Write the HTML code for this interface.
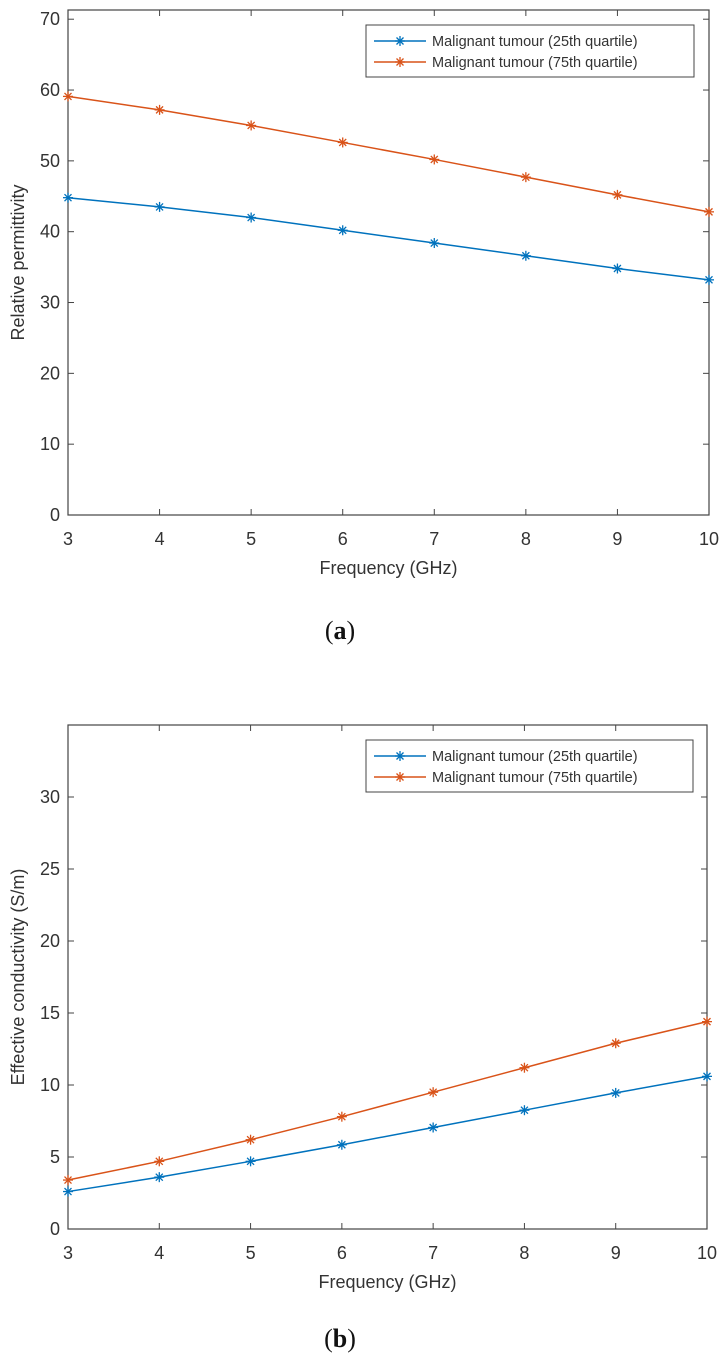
<!DOCTYPE html>
<html><head><meta charset="utf-8"><style>
body{margin:0;background:#fff;width:727px;height:1362px;overflow:hidden}
svg{display:block}
text{font-family:"Liberation Sans",sans-serif;fill:#333}
</style></head><body>
<svg id="s" width="727" height="1362"></svg>
<script>
const freqs=[3,4,5,6,7,8,9,10];
const permLow=[44.8,43.5,42.0,40.2,38.4,36.6,34.8,33.2];
const permHigh=[59.1,57.2,55.0,52.6,50.2,47.7,45.2,42.8];
const condLow=[2.6,3.6,4.7,5.85,7.05,8.25,9.45,10.6];
const condHigh=[3.4,4.7,6.2,7.8,9.5,11.2,12.9,14.4];
const xTicks=[3,4,5,6,7,8,9,10];
const permTicks=[0,10,20,30,40,50,60,70];
const condTicks=[0,5,10,15,20,25,30];
const legendLabels=["Malignant tumour (25th quartile)","Malignant tumour (75th quartile)"];
const NS="http://www.w3.org/2000/svg";
const svg=document.getElementById('s');
function el(t,a,p){const e=document.createElementNS(NS,t);for(const k in a)e.setAttribute(k,a[k]);(p||svg).appendChild(e);return e;}
const colors=["#0072BD","#D95319"];
function chart(o){
  const g=el('g',{});
  
  
  const X=v=>o.x0+(v-3)/(7)*(o.x1-o.x0);
  const Y=v=>o.yb-(v/o.ymax)*(o.yb-o.yt);
  el('rect',{x:o.x0,y:o.yt,width:o.x1-o.x0,height:o.yb-o.yt,fill:'#fff',stroke:'#444','stroke-width':1.2},g);
  xTicks.forEach(t=>{const x=X(t);
    el('line',{x1:x,x2:x,y1:o.yb,y2:o.yb-6,stroke:'#444'},g);
    el('line',{x1:x,x2:x,y1:o.yt,y2:o.yt+6,stroke:'#444'},g);
    const tx=el('text',{x:x,y:o.yb+30,'text-anchor':'middle','font-size':18},g);tx.textContent=t;
    
    });
  o.ticks.forEach(t=>{const y=Y(t);
    el('line',{x1:o.x0,x2:o.x0+6,y1:y,y2:y,stroke:'#444'},g);
    el('line',{x1:o.x1,x2:o.x1-6,y1:y,y2:y,stroke:'#444'},g);
    const tx=el('text',{x:o.x0-8,y:y+6,'text-anchor':'end','font-size':18},g);tx.textContent=t;
    
    });
  const xt=el('text',{x:(o.x0+o.x1)/2,y:o.yb+59,'text-anchor':'middle','font-size':18},g);xt.textContent='Frequency (GHz)';
  
  
  const yc=(o.yt+o.yb)/2;
  const yt=el('text',{x:24,y:yc,'text-anchor':'middle','font-size':18,transform:`rotate(-90 24 ${yc})`},g);yt.textContent=o.ytitle;
  
  
  [o.s1,o.s2].forEach((s,i)=>{
    const pts=s.map((v,j)=>X(freqs[j])+','+Y(v)).join(' ');
    const pl=el('polyline',{points:pts,fill:'none',stroke:colors[i],'stroke-width':1.5},g);
    
    
    s.forEach((v,j)=>star(g,X(freqs[j]),Y(v),colors[i]));
  });
  const lx=366,ly=o.ly,lw=o.lw;
  const lg=el('g',{},g);
  
  
  el('rect',{x:lx,y:ly,width:lw-lx,height:52,fill:'#fff',stroke:'#444'},lg);
  legendLabels.forEach((l,i)=>{const yy=ly+16+i*21;
    el('line',{x1:lx+8,x2:lx+60,y1:yy,y2:yy,stroke:colors[i],'stroke-width':1.5},lg);
    star(lg,lx+34,yy,colors[i]);
    const t=el('text',{x:lx+66,y:yy+5,'font-size':14.5},lg);t.textContent=l;
    
    });
  const c=el('text',{x:340,y:o.cap,'text-anchor':'middle','font-size':26,style:'font-family:"Liberation Serif",serif;fill:#111'},g);
  c.innerHTML='(<tspan font-weight="bold">'+o.letter+'</tspan>)';
  
  
}
function star(g,x,y,c){const r=5;
  [[r,0],[0,r],[r*.7,r*.7],[r*.7,-r*.7]].forEach(d=>el('line',{x1:x-d[0],y1:y-d[1],x2:x+d[0],y2:y+d[1],stroke:c,'stroke-width':1.3},g));}
chart({name:'permittivity-chart',x0:68,x1:709,yt:10,yb:515,ymax:71.3,ticks:permTicks,ytitle:'Relative permittivity',s1:permLow,s2:permHigh,ly:25,lw:694,cap:639,letter:'a'});
chart({name:'conductivity-chart',x0:68,x1:707,yt:725,yb:1229,ymax:35,ticks:condTicks,ytitle:'Effective conductivity (S/m)',s1:condLow,s2:condHigh,ly:740,lw:693,cap:1347,letter:'b'});
</script>
</body></html>
